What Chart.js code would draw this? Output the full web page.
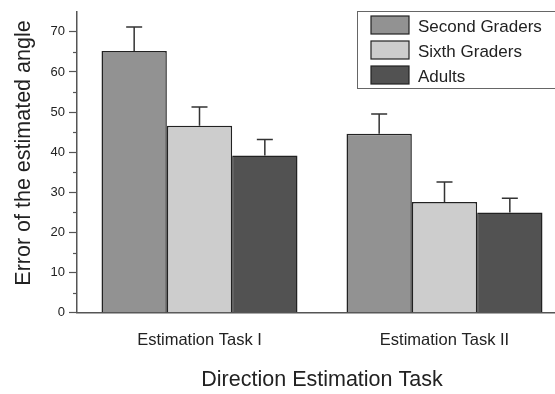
<!DOCTYPE html>
<html>
<head>
<meta charset="utf-8">
<script src="https://cdn.jsdelivr.net/npm/chart.js@4/dist/chart.umd.min.js"></script>
<style>
  html, body { margin:0; padding:0; background:#fff; overflow:hidden; }
  #wrap { width:570px; height:394px; position:relative; }
</style>
</head>
<body>
<div id="wrap"><canvas id="c"></canvas></div>
<script>
const FONT = "Arial, 'Liberation Sans', Helvetica, sans-serif";

// data
const categories = ["Estimation Task I", "Estimation Task II"];
const seriesNames = ["Second Graders", "Sixth Graders", "Adults"];
const secondGraders = [65.2, 44.6];
const sixthGraders = [46.6, 27.6];
const adults = [39.2, 25.0];
const secondErr = [6.0, 4.9];
const sixthErr = [4.7, 5.0];
const adultsErr = [4.0, 3.5];
const yTicks = [0, 10, 20, 30, 40, 50, 60, 70];
const yMinor = [5, 15, 25, 35, 45, 55, 65];
const yTitle = "Error of the estimated angle";

const fills = ["#929292", "#cdcdcd", "#525252"];

/* error bars, upper side only */
const errorBars = {
  id: "errorBars",
  afterDatasetsDraw(chart){
    const ctx = chart.ctx;
    const y = chart.scales.y;
    ctx.save();
    ctx.strokeStyle = "#333";
    ctx.lineWidth = 1.5;
    chart.data.datasets.forEach((ds, di)=>{
      const meta = chart.getDatasetMeta(di);
      meta.data.forEach((bar, i)=>{
        const top = y.getPixelForValue(ds.data[i] + ds.err[i]);
        const base = y.getPixelForValue(ds.data[i]);
        ctx.beginPath();
        ctx.moveTo(bar.x, base);
        ctx.lineTo(bar.x, top);
        ctx.moveTo(bar.x - 8, top);
        ctx.lineTo(bar.x + 8, top);
        ctx.stroke();
      });
    });
    ctx.restore();
  }
};

/* short minor ticks on y axis + rotated y title */
const yExtras = {
  id: "yExtras",
  afterDraw(chart){
    const ctx = chart.ctx;
    const y = chart.scales.y;
    const x0 = chart.chartArea.left;
    ctx.save();
    ctx.strokeStyle = "#555";
    ctx.lineWidth = 1.2;
    yMinor.forEach(v=>{
      const py = Math.round(y.getPixelForValue(v)) + 0.5;
      ctx.beginPath();
      ctx.moveTo(x0 - 4, py);
      ctx.lineTo(x0, py);
      ctx.stroke();
    });
    ctx.translate(24, 153);
    ctx.rotate(-Math.PI/2);
    ctx.fillStyle = "#222";
    ctx.font = "21.5px " + FONT;
    ctx.textAlign = "center";
    ctx.textBaseline = "middle";
    ctx.fillText(yTitle, 0, 0);
    ctx.restore();
  }
};

/* boxed legend at top right */
const boxLegend = {
  id: "boxLegend",
  afterDraw(chart){
    const ctx = chart.ctx;
    ctx.save();
    ctx.fillStyle = "#fff";
    ctx.fillRect(357.5, 11.5, 220, 77);
    ctx.strokeStyle = "#666";
    ctx.lineWidth = 1;
    ctx.strokeRect(357.5, 11.5, 220, 77);
    chart.data.datasets.forEach((ds, i)=>{
      const top = 16 + i*25;
      ctx.fillStyle = ds.backgroundColor;
      ctx.fillRect(371, top, 38, 18);
      ctx.strokeStyle = "#222";
      ctx.lineWidth = 1.2;
      ctx.strokeRect(371, top, 38, 18);
      ctx.fillStyle = "#222";
      ctx.font = "17px " + FONT;
      ctx.textBaseline = "alphabetic";
      ctx.fillText(ds.label, 418, top + 16);
    });
    ctx.restore();
  }
};

const mk = (i, data, err)=>({
  label: seriesNames[i],
  data: data,
  err: err,
  backgroundColor: fills[i],
  borderColor: "#222",
  borderWidth: 1.5,
  categoryPercentage: 0.8,
  barPercentage: 1.0
});

new Chart(document.getElementById("c"), {
  type: "bar",
  data: {
    labels: categories,
    datasets: [
      mk(0, secondGraders, secondErr),
      mk(1, sixthGraders, sixthErr),
      mk(2, adults, adultsErr)
    ]
  },
  options: {
    responsive: true,
    maintainAspectRatio: false,
    animation: false,
    layout: { padding: { left: 0, right: 3, top: 0, bottom: 0 } },
    plugins: { legend: { display: false }, tooltip: { enabled: false } },
    scales: {
      x: {
        afterFit: s => { s.height = 81.3; },
        grid: { display: false, drawTicks: false },
        border: { display: true, color: "#555", width: 1.5 },
        ticks: { color: "#222", font: { family: FONT, size: 16.5 }, padding: 18 },
        title: {
          display: true, text: "Direction Estimation Task", color: "#222",
          font: { family: FONT, size: 21.5, lineHeight: 1.2 },
          padding: { top: 0, bottom: 1 }
        }
      },
      y: {
        min: 0, max: 75,
        afterFit: s => { s.width = 77; },
        afterBuildTicks: s => { s.ticks = yTicks.map(v=>({ value: v })); },
        grid: { drawOnChartArea: false, drawTicks: true, tickLength: 8, tickColor: "#555", tickWidth: 1.2 },
        border: { display: true, color: "#555", width: 1.5 },
        ticks: { color: "#222", font: { family: FONT, size: 13 }, padding: 4 },
        title: { display: false }
      }
    }
  },
  plugins: [errorBars, yExtras, boxLegend]
});
</script>
</body>
</html>
